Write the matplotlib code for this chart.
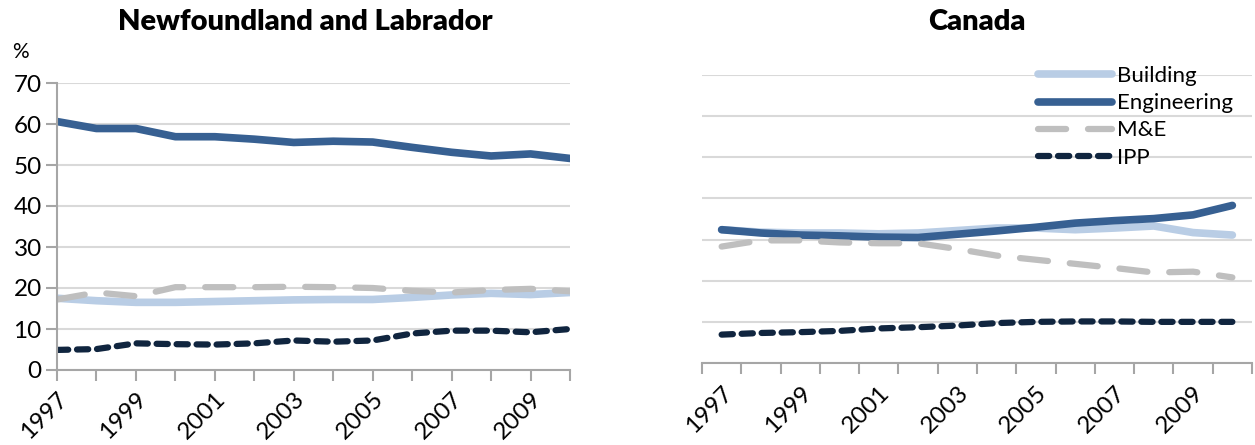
import matplotlib
matplotlib.use("Agg")
import matplotlib.pyplot as plt

plt.rcParams['font.family'] = ['Lato', 'DejaVu Sans']

# Данные
years = list(range(1997, 2011))
tick_years = [1997, 1999, 2001, 2003, 2005, 2007, 2009]
series_names = ['Building', 'Engineering', 'M&E', 'IPP']

# Newfoundland and Labrador, %
nl_building = [17.5, 16.9, 16.5, 16.5, 16.7, 16.9, 17.1, 17.2, 17.2, 17.7, 18.3, 18.7, 18.4, 18.9]
nl_engineering = [60.6, 58.9, 58.9, 56.9, 56.9, 56.3, 55.5, 55.8, 55.6, 54.3, 53.1, 52.2, 52.7, 51.6]
nl_me = [17.2, 18.9, 18.0, 20.2, 20.2, 20.2, 20.3, 20.2, 20.0, 19.3, 18.9, 19.5, 19.8, 19.2]
nl_ipp = [4.9, 5.1, 6.5, 6.3, 6.2, 6.5, 7.2, 6.9, 7.2, 8.9, 9.6, 9.6, 9.2, 10.0]

# Canada, %
ca_building = [32.4, 31.8, 31.6, 31.6, 31.4, 31.6, 32.2, 32.8, 32.8, 32.4, 32.8, 33.3, 31.7, 31.1]
ca_engineering = [32.4, 31.6, 31.1, 30.9, 30.6, 30.5, 31.3, 32.1, 33.0, 34.0, 34.6, 35.1, 36.0, 38.3]
ca_me = [28.3, 29.8, 29.8, 29.3, 29.1, 29.1, 27.7, 26.1, 25.1, 24.1, 23.1, 22.0, 22.2, 20.8]
ca_ipp = [6.9, 7.3, 7.5, 7.8, 8.4, 8.7, 9.1, 9.7, 10.0, 10.1, 10.1, 10.0, 10.0, 10.0]

styles = {
    'Building': dict(color='#B9CDE5', lw=5.5, solid_capstyle='round'),
    'Engineering': dict(color='#376092', lw=5.5, solid_capstyle='round'),
    'M&E': dict(color='#BFBFBF', lw=4.5, dashes=(4.5, 3.5), dash_capstyle='round'),
    'IPP': dict(color='#10253F', lw=4.5, dashes=(1.8, 1.4), dash_capstyle='round'),
}
grid_color = '#D9D9D9'
axis_color = '#A6A6A6'

fig = plt.figure(figsize=(12.55, 4.45), dpi=100)

# Левая панель
ax1 = fig.add_axes([57 / 1255, 1 - 370 / 445, 513 / 1255, 287 / 445])
for name, vals in zip(series_names, [nl_building, nl_engineering, nl_me, nl_ipp]):
    ax1.plot(years, vals, label=name, **styles[name])
ax1.set_xlim(1997, 2010)
ax1.set_ylim(0, 70)
ax1.set_yticks(range(0, 71, 10))
ax1.set_xticks(years)
ax1.set_xticklabels([str(y) if y in tick_years else '' for y in years], rotation=45,
                    ha='right', va='top', rotation_mode='anchor')
ax1.yaxis.grid(True, color=grid_color, lw=1.5)
ax1.set_axisbelow(True)
for s in ['top', 'right']:
    ax1.spines[s].set_visible(False)
for s in ['left', 'bottom']:
    ax1.spines[s].set_color(axis_color)
    ax1.spines[s].set_linewidth(1.5)
ax1.tick_params(axis='both', colors=axis_color, length=8, width=1.5, labelsize=17.5,
                labelcolor='black')
ax1.tick_params(axis='x', pad=5)
ax1.tick_params(axis='y', pad=3)
fig.text(20 / 1255, 1 - 52 / 445, '%', fontsize=15, ha='center', va='center')
fig.text(305 / 1255, 1 - 22 / 445, 'Newfoundland and Labrador', fontsize=21,
         fontweight='heavy', ha='center', va='center')

# Правая панель
ax2 = fig.add_axes([702 / 1255, 1 - 363 / 445, 550 / 1255, 288 / 445])
for name, vals in zip(series_names, [ca_building, ca_engineering, ca_me, ca_ipp]):
    ax2.plot(years, vals, label=name, **styles[name])
ax2.set_xlim(1996.5, 2010.5)
ax2.set_ylim(0, 70)
ax2.set_yticks(range(0, 71, 10))
ax2.set_yticklabels([])
ax2.tick_params(axis='y', length=0)
ax2.set_xticks([y - 0.5 for y in years] + [2010.5])
ax2.set_xticklabels([])
ax2.set_xticks(tick_years, minor=True)
ax2.set_xticklabels([str(y) for y in tick_years], minor=True, rotation=45,
                    ha='right', va='top', rotation_mode='anchor')
ax2.tick_params(axis='x', which='major', colors=axis_color, length=8, width=1.5)
ax2.tick_params(axis='x', which='minor', length=0, labelsize=17.5, pad=14)
ax2.yaxis.grid(True, color=grid_color, lw=1.5)
ax2.set_axisbelow(True)
for s in ['top', 'right', 'left']:
    ax2.spines[s].set_visible(False)
ax2.spines['bottom'].set_color(axis_color)
ax2.spines['bottom'].set_linewidth(1.5)
fig.text(977 / 1255, 1 - 22 / 445, 'Canada', fontsize=21,
         fontweight='heavy', ha='center', va='center')

leg = ax2.legend(loc='upper left', bbox_to_anchor=(0.575, 1.1), frameon=False,
                 fontsize=16, handlelength=3.3, handletextpad=0.25, labelspacing=0.32)

fig.savefig('out.png', dpi=100)
